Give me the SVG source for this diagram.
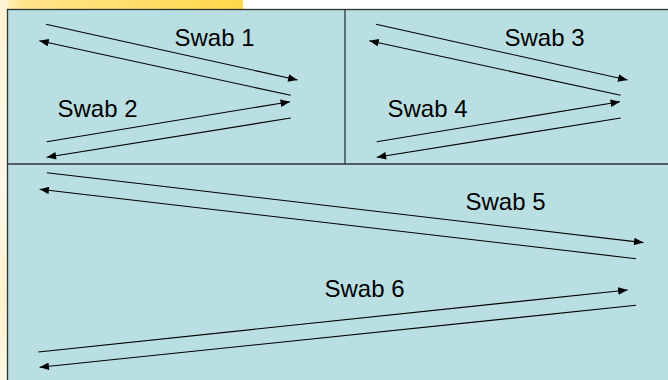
<svg xmlns="http://www.w3.org/2000/svg" width="668" height="380" viewBox="0 0 668 380">
  <style>
    .pane { fill: #BADFE2; stroke: #2E3436; stroke-width: 1.3; }
    .div { stroke: #2E3436; stroke-width: 1.3; fill: none; }
    .lbl { font-family: "Liberation Sans", Arial, sans-serif; font-size: 24px; fill: #000; }
    .conn line { stroke: #000; stroke-width: 1.1; fill: none; }
    .arr { marker-end: url(#ah); }
  </style>
  <defs>
    <marker id="ah" viewBox="0 0 10 8" markerWidth="10" markerHeight="7.5" refX="10" refY="4" orient="auto" markerUnits="userSpaceOnUse">
      <path d="M0,0 L10,4 L0,8 z" fill="#000"/>
    </marker>
    <linearGradient id="topband" x1="0" y1="0" x2="1" y2="0">
      <stop offset="0" stop-color="#FFF3CC"/>
      <stop offset="0.1" stop-color="#FFE48A"/>
      <stop offset="1" stop-color="#FFD84A"/>
    </linearGradient>
    <linearGradient id="leftband" x1="0" y1="0" x2="0" y2="1">
      <stop offset="0" stop-color="#FFF3D2"/>
      <stop offset="0.5" stop-color="#FFF8E8"/>
      <stop offset="0.78" stop-color="#FFF2CC"/>
      <stop offset="1" stop-color="#FFF7E2"/>
    </linearGradient>
  </defs>

  <g id="background">
    <rect x="0" y="0" width="668" height="380" fill="#FFFFFF"/>
    <rect x="0" y="0" width="243" height="10" fill="url(#topband)"/>
    <rect x="0" y="0" width="8" height="380" fill="url(#leftband)"/>
  </g>

  <g id="panels">
    <rect class="pane" x="7.5" y="9.5" width="670" height="380"/>
    <line class="div" x1="7.5" y1="164" x2="668" y2="164"/>
    <line class="div" x1="345" y1="9.5" x2="345" y2="164"/>
  </g>

  <g id="connectors" class="conn">
    <line class="arr" x1="46" y1="24.3" x2="297.5" y2="80"/>
    <line class="arr" x1="290.7" y1="95.3" x2="39.3" y2="40.7"/>
    <line class="arr" x1="46.7" y1="141.7" x2="290" y2="101.7"/>
    <line class="arr" x1="290.7" y1="118" x2="46.7" y2="157.3"/>

    <line class="arr" x1="376" y1="24.3" x2="627.5" y2="80"/>
    <line class="arr" x1="620.7" y1="95.3" x2="369.3" y2="40.7"/>
    <line class="arr" x1="376.7" y1="141.7" x2="620" y2="101.7"/>
    <line class="arr" x1="620.7" y1="118" x2="376.7" y2="157.3"/>

    <line class="arr" x1="46.9" y1="172.7" x2="643.4" y2="242.6"/>
    <line class="arr" x1="636.1" y1="258.7" x2="39.6" y2="189.3"/>
    <line class="arr" x1="38.3" y1="352" x2="627.6" y2="290"/>
    <line class="arr" x1="636.1" y1="305.3" x2="39.6" y2="367.3"/>
  </g>

  <g id="swab1"><text class="lbl" x="174.5" y="46">Swab 1</text></g>
  <g id="swab2"><text class="lbl" x="57.5" y="116.5">Swab 2</text></g>
  <g id="swab3"><text class="lbl" x="504.5" y="46">Swab 3</text></g>
  <g id="swab4"><text class="lbl" x="387.5" y="116.5">Swab 4</text></g>
  <g id="swab5"><text class="lbl" x="465.5" y="210">Swab 5</text></g>
  <g id="swab6"><text class="lbl" x="324.5" y="296.5">Swab 6</text></g>
</svg>
